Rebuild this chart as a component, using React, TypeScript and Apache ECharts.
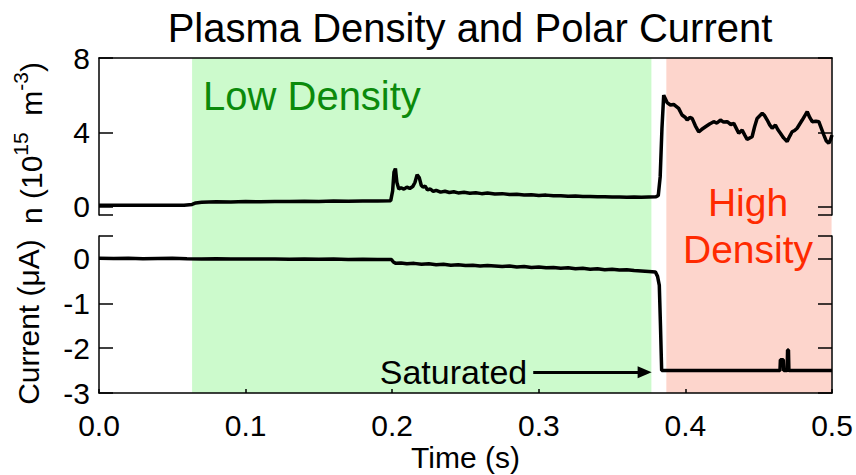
import React, { useEffect, useRef } from 'react';
import * as echarts from 'echarts';

const FONT = '"Liberation Sans", Arial, Helvetica, sans-serif';

const titleText = 'Plasma Density and Polar Current';
const xAxisName = 'Time (s)';
const densityName = '{a|n (10}{s|15}{a|  m}{s|-3}{a|)}';
const currentName = 'Current (μA)';
const lowLabel = 'Low Density';
const highLabel = 'High\nDensity';
const saturatedLabel = 'Saturated';

const xRange = [0, 0.5];
const densityRange = [-0.45, 8];
const currentRange = [-3, 0.5];
const densityTicks = [-0.45, 0, 4, 8];
const densityTickLabels = [0, 4, 8];
const currentTicks = [-3, -2, -1, 0, 0.5];
const currentTickLabels = [-3, -2, -1, 0];

const lowDensityRegion = [0.0635, 0.3768];
const highDensityRegion = [0.387, 0.4997];

const saturatedArrowTime = [0.2962, 0.3722];
const saturatedArrowLevel = -2.54;

// [time (s), n (1e15 m^-3)]
const densityTrace: [number, number][] = [
  [0, 0.08], [0.01, 0.07], [0.02, 0.08], [0.03, 0.07], [0.04, 0.08], [0.05, 0.07], [0.058, 0.08],
  [0.0635, 0.12], [0.066, 0.2], [0.07, 0.24], [0.08, 0.26], [0.09, 0.25], [0.1, 0.27], [0.11, 0.26],
  [0.12, 0.28], [0.13, 0.27], [0.14, 0.29], [0.15, 0.28], [0.16, 0.3], [0.17, 0.29], [0.18, 0.3],
  [0.19, 0.31], [0.199, 0.32], [0.2003, 0.85], [0.2012, 1.85], [0.2022, 2.05], [0.2032, 1.3],
  [0.2045, 0.95], [0.206, 1.02], [0.208, 0.94], [0.21, 1.05], [0.212, 0.98], [0.214, 1.08],
  [0.2155, 1.3], [0.217, 1.72], [0.2185, 1.55], [0.2198, 1.15], [0.221, 1.05], [0.2225, 1.1],
  [0.224, 0.9], [0.226, 0.95], [0.228, 0.82], [0.23, 0.88], [0.233, 0.78], [0.236, 0.83],
  [0.239, 0.76], [0.242, 0.8], [0.245, 0.74], [0.249, 0.77], [0.253, 0.72], [0.257, 0.75],
  [0.261, 0.7], [0.265, 0.73], [0.27, 0.68], [0.275, 0.7], [0.28, 0.65], [0.285, 0.67],
  [0.29, 0.63], [0.295, 0.64], [0.3, 0.6], [0.305, 0.62], [0.31, 0.58], [0.315, 0.59],
  [0.32, 0.56], [0.325, 0.57], [0.33, 0.54], [0.335, 0.55], [0.34, 0.53], [0.345, 0.53],
  [0.35, 0.52], [0.355, 0.52], [0.36, 0.51], [0.365, 0.52], [0.37, 0.51], [0.375, 0.52],
  [0.38, 0.53], [0.3815, 0.6], [0.3828, 1.6], [0.384, 4.2], [0.3852, 6.0], [0.3875, 5.6],
  [0.3898, 5.47], [0.392, 5.5], [0.3954, 5.29], [0.3977, 4.93], [0.4, 4.8], [0.4012, 4.66],
  [0.403, 4.8], [0.4046, 4.75], [0.4068, 4.35], [0.4091, 4.03], [0.411, 4.15], [0.4137, 4.3],
  [0.4165, 4.45], [0.4193, 4.57], [0.4215, 4.5], [0.4239, 4.66], [0.426, 4.55], [0.4285, 4.57],
  [0.431, 4.42], [0.433, 4.48], [0.4348, 4.2], [0.4364, 3.95], [0.4387, 4.12], [0.4405, 3.85],
  [0.4421, 3.62], [0.4455, 3.76], [0.4472, 4.3], [0.4489, 4.75], [0.4524, 5.02], [0.454, 4.9],
  [0.4558, 4.66], [0.4575, 4.4], [0.4592, 4.22], [0.4614, 4.39], [0.463, 4.15], [0.4648, 3.95],
  [0.467, 3.7], [0.4694, 3.5], [0.4712, 3.8], [0.4728, 4.03], [0.4745, 4.1], [0.4762, 4.22],
  [0.478, 4.45], [0.4797, 4.66], [0.4815, 4.9], [0.4831, 5.11], [0.4848, 4.8], [0.4865, 4.57],
  [0.489, 4.6], [0.491, 4.57], [0.4928, 4.2], [0.4944, 3.86], [0.496, 3.55], [0.4978, 3.41],
  [0.499, 3.6], [0.5, 3.86],
];

// [time (s), current (uA)]
const currentTrace: [number, number][] = [
  [0, 0.005], [0.01, 0], [0.02, 0.005], [0.03, -0.005], [0.04, 0], [0.05, 0.005], [0.06, -0.005],
  [0.07, -0.01], [0.08, -0.005], [0.09, -0.015], [0.1, -0.01], [0.11, -0.015], [0.12, -0.01],
  [0.13, -0.02], [0.14, -0.015], [0.15, -0.02], [0.16, -0.015], [0.17, -0.025], [0.18, -0.02],
  [0.19, -0.025], [0.1995, -0.025], [0.2008, -0.08], [0.2025, -0.11], [0.206, -0.1], [0.21, -0.12],
  [0.215, -0.11], [0.22, -0.13], [0.225, -0.12], [0.23, -0.14], [0.235, -0.13], [0.24, -0.15],
  [0.245, -0.14], [0.25, -0.16], [0.255, -0.15], [0.26, -0.17], [0.265, -0.16], [0.27, -0.17],
  [0.275, -0.18], [0.28, -0.17], [0.285, -0.19], [0.29, -0.18], [0.295, -0.2], [0.3, -0.19],
  [0.305, -0.21], [0.31, -0.2], [0.315, -0.22], [0.32, -0.21], [0.325, -0.23], [0.33, -0.22],
  [0.335, -0.24], [0.34, -0.23], [0.345, -0.25], [0.35, -0.24], [0.355, -0.26], [0.36, -0.25],
  [0.365, -0.27], [0.37, -0.28], [0.375, -0.29], [0.3795, -0.3], [0.381, -0.4], [0.3822, -0.6],
  [0.383, -1.5], [0.3838, -2.5], [0.39, -2.5], [0.41, -2.5], [0.43, -2.5], [0.45, -2.5],
  [0.4645, -2.5], [0.4648, -2.26], [0.4668, -2.26], [0.4671, -2.5], [0.4694, -2.5],
  [0.4697, -2.04], [0.4703, -2.04], [0.4706, -2.5], [0.48, -2.5], [0.49, -2.5], [0.5, -2.5],
];

const BLACK = '#000';
const GREEN_BG = '#ccfacc';
const PINK_BG = '#fdd5cc';
const GREEN_TEXT = '#0b8a0b';
const RED_TEXT = '#ff2a00';

const axisLine = { show: true, onZero: false, lineStyle: { color: BLACK, width: 1.5 } };
const tickLabelStyle = { color: BLACK, fontSize: 30, fontFamily: FONT };

export default function App() {
  const ref = useRef<HTMLDivElement>(null);

  useEffect(() => {
    if (!ref.current) return;
    const chart = echarts.init(ref.current, undefined, { renderer: 'svg' });

    const yAxisPair = (grid: number, range: number[], ticks: number[], labels: number[]) => [
      {
        type: 'value', gridIndex: grid, position: 'left', min: range[0], max: range[1], z: 5,
        axisLine, splitLine: { show: false },
        axisTick: { show: true, inside: true, length: 14, customValues: ticks, lineStyle: { color: BLACK, width: 1.5 } },
        axisLabel: { ...tickLabelStyle, margin: 9, customValues: labels, formatter: (v: number) => String(v) },
      },
      {
        type: 'value', gridIndex: grid, position: 'right', min: range[0], max: range[1], z: 5,
        axisLine, splitLine: { show: false },
        axisTick: { show: true, inside: true, length: 14, customValues: ticks, lineStyle: { color: BLACK, width: 1.5 } },
        axisLabel: { show: false },
      },
    ];

    const option: any = {
      animation: false,
      backgroundColor: '#fff',
      title: {
        text: titleText, left: 465, top: 3, textAlign: 'center',
        textStyle: { fontSize: 40, fontWeight: 'normal', color: BLACK, fontFamily: FONT },
      },
      grid: [
        { left: 99, right: 24, top: 58, height: 157 },
        { left: 99, right: 24, top: 236, height: 157 },
        { left: 99, right: 24, top: 58, height: 335 },
      ],
      xAxis: [
        {
          type: 'value', gridIndex: 0, position: 'top', min: xRange[0], max: xRange[1], z: 5,
          axisLine, axisTick: { show: false }, axisLabel: { show: false }, splitLine: { show: false },
        },
        {
          type: 'value', gridIndex: 1, position: 'bottom', min: xRange[0], max: xRange[1], interval: 0.1, z: 5,
          axisLine, splitLine: { show: false },
          axisTick: { show: true, inside: true, length: 4, lineStyle: { color: BLACK, width: 1.5 } },
          axisLabel: { ...tickLabelStyle, margin: 17, formatter: (v: number) => v.toFixed(1) },
          name: xAxisName, nameLocation: 'middle', nameGap: 49,
          nameTextStyle: { color: BLACK, fontSize: 30, fontFamily: FONT },
        },
        { type: 'value', gridIndex: 2, min: xRange[0], max: xRange[1], show: false },
      ],
      yAxis: [
        ...yAxisPair(0, densityRange, densityTicks, densityTickLabels),
        ...yAxisPair(1, currentRange, currentTicks, currentTickLabels),
        { type: 'value', gridIndex: 2, min: 0, max: 1, show: false },
      ],
      series: [
        {
          type: 'line', xAxisIndex: 2, yAxisIndex: 4, data: [[0, 0]], symbol: 'none', z: 1,
          lineStyle: { opacity: 0 }, silent: true,
          markArea: {
            silent: true,
            data: [
              [{ xAxis: lowDensityRegion[0], itemStyle: { color: GREEN_BG, opacity: 1 } }, { xAxis: lowDensityRegion[1] }],
              [{ xAxis: highDensityRegion[0], itemStyle: { color: PINK_BG, opacity: 1 } }, { xAxis: highDensityRegion[1] }],
            ],
          },
        },
        {
          type: 'line', xAxisIndex: 0, yAxisIndex: 0, data: densityTrace, symbol: 'none', z: 3,
          lineStyle: { color: BLACK, width: 3.5 },
        },
        {
          type: 'line', xAxisIndex: 1, yAxisIndex: 2, data: currentTrace, symbol: 'none', z: 3,
          lineStyle: { color: BLACK, width: 3.5 },
          markLine: {
            silent: true,
            symbol: ['none', 'triangle'],
            symbolSize: [12, 14],
            lineStyle: { color: BLACK, width: 3, type: 'solid' },
            label: {
              show: true, position: 'start', formatter: saturatedLabel, distance: 6,
              color: BLACK, fontSize: 34, fontFamily: FONT,
            },
            data: [[
              { coord: [saturatedArrowTime[0], saturatedArrowLevel] },
              { coord: [saturatedArrowTime[1], saturatedArrowLevel] },
            ]],
          },
        },
      ],
      graphic: [
        {
          type: 'text', x: 203, y: 96, z: 10,
          style: { text: lowLabel, fill: GREEN_TEXT, font: `40px ${FONT}`, align: 'left', verticalAlign: 'middle' },
        },
        {
          type: 'text', x: 748, y: 226, z: 10,
          style: { text: highLabel, fill: RED_TEXT, font: `39px ${FONT}`, align: 'center', verticalAlign: 'middle', lineHeight: 47 },
        },
        {
          type: 'text', x: 28, y: 143, rotation: Math.PI / 2, z: 10,
          style: {
            text: densityName, fill: BLACK, align: 'center', verticalAlign: 'middle',
            rich: {
              a: { fontSize: 30, fontFamily: FONT, color: BLACK, lineHeight: 36, verticalAlign: 'bottom' },
              s: { fontSize: 21, fontFamily: FONT, color: BLACK, lineHeight: 36, verticalAlign: 'top' },
            },
          },
        },
        {
          type: 'text', x: 28, y: 322, rotation: Math.PI / 2, z: 10,
          style: { text: currentName, fill: BLACK, font: `30px ${FONT}`, align: 'center', verticalAlign: 'middle' },
        },
      ],
    };

    chart.setOption(option);
    return () => chart.dispose();
  }, []);

  return <div ref={ref} style={{ width: 856, height: 475, position: 'absolute', left: 0, top: 0 }} />;
}
